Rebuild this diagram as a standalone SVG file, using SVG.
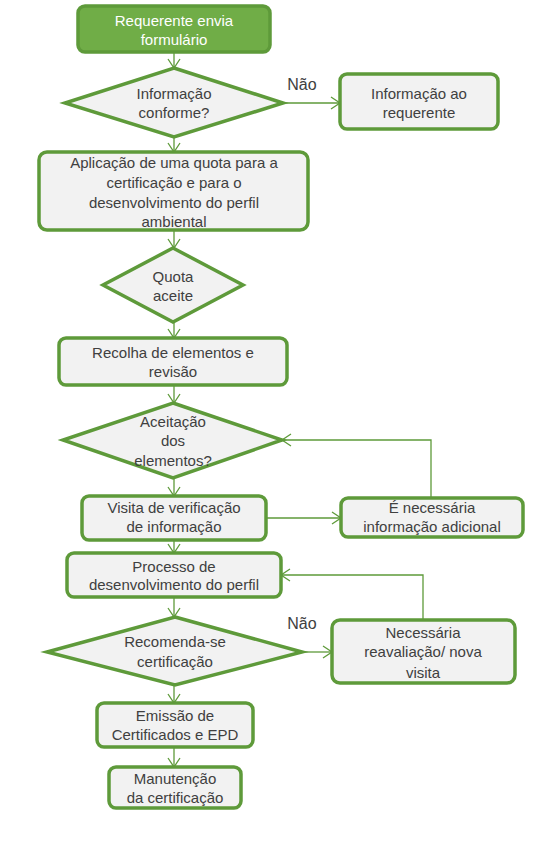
<svg xmlns="http://www.w3.org/2000/svg" width="548" height="841" viewBox="0 0 548 841">
<defs>
<marker id="arr" markerUnits="userSpaceOnUse" markerWidth="12" markerHeight="14" refX="10" refY="7" orient="auto">
<path d="M1,1 L10,7 L1,13" fill="none" stroke="#5E9A3A" stroke-width="1.3"/>
</marker>
</defs>
<style>
.box{fill:#F2F2F2;stroke:#5E9A3A;stroke-width:3.5}
.start{fill:#70AD47;stroke:#5E9A3A;stroke-width:3.5}
.t{font-family:"Liberation Sans",Arial,sans-serif;font-size:15px;fill:#404040;text-anchor:middle}
.w{fill:#FFFFFF}
.n{font-size:16px}
.c{fill:none;stroke:#5E9A3A;stroke-width:1.3;marker-end:url(#arr)}
</style>
<rect width="548" height="841" fill="#FFFFFF"/>
<g id="connectors">
<path class="c" d="M174,52 V68"/>
<path class="c" d="M283,103 H340"/>
<path class="c" d="M174,137 V152"/>
<path class="c" d="M174,230 V248"/>
<path class="c" d="M174,322 V338"/>
<path class="c" d="M174,385 V403"/>
<path class="c" d="M174,478 V496"/>
<path class="c" d="M266,518 H341"/>
<path class="c" d="M431,498 V440 H282"/>
<path class="c" d="M174,540 V553"/>
<path class="c" d="M174,597 V617"/>
<path class="c" d="M302,652 H332"/>
<path class="c" d="M423,620 V575 H281"/>
<path class="c" d="M174,685 V703"/>
<path class="c" d="M174,747 V767"/>
</g>
<g id="n1">
<rect class="start" x="78" y="6" width="192" height="46" rx="7"/>
<text class="t w" x="174" y="26">Requerente envia</text>
<text class="t w" x="174" y="45">formulário</text>
</g>
<g id="n2">
<polygon class="box" points="174,68 283,103 174,137 65,103"/>
<text class="t" x="174" y="99">Informação</text>
<text class="t" x="174" y="118">conforme?</text>
</g>
<text class="t n" x="302" y="90">Não</text>
<g id="n3">
<rect class="box" x="340" y="74" width="158" height="55" rx="7"/>
<text class="t" x="419" y="99">Informação ao</text>
<text class="t" x="419" y="118">requerente</text>
</g>
<g id="n4">
<rect class="box" x="39" y="152" width="269" height="78" rx="8"/>
<text class="t" x="174" y="168">Aplicação de uma quota para a</text>
<text class="t" x="174" y="188">certificação e para o</text>
<text class="t" x="174" y="208">desenvolvimento do perfil</text>
<text class="t" x="174" y="227">ambiental</text>
</g>
<g id="n5">
<polygon class="box" points="173,248 243,285 173,322 103,285"/>
<text class="t" x="173" y="282">Quota</text>
<text class="t" x="173" y="301">aceite</text>
</g>
<g id="n6">
<rect class="box" x="59" y="338" width="228" height="47" rx="7"/>
<text class="t" x="173" y="358">Recolha de elementos e</text>
<text class="t" x="173" y="377">revisão</text>
</g>
<g id="n7">
<polygon class="box" points="173,403 282,440 173,478 63,440"/>
<text class="t" x="173" y="427">Aceitação</text>
<text class="t" x="173" y="446">dos</text>
<text class="t" x="173" y="466">elementos?</text>
</g>
<g id="n8">
<rect class="box" x="82" y="496" width="184" height="44" rx="7"/>
<text class="t" x="174" y="513">Visita de verificação</text>
<text class="t" x="174" y="532">de informação</text>
</g>
<g id="n9">
<rect class="box" x="341" y="498" width="182" height="39" rx="7"/>
<text class="t" x="432" y="513">É necessária</text>
<text class="t" x="432" y="532">informação adicional</text>
</g>
<g id="n10">
<rect class="box" x="67" y="553" width="214" height="44" rx="7"/>
<text class="t" x="174" y="572">Processo de</text>
<text class="t" x="174" y="590">desenvolvimento do perfil</text>
</g>
<g id="n11">
<polygon class="box" points="175,617 302,652 175,685 47,652"/>
<text class="t" x="175" y="647">Recomenda-se</text>
<text class="t" x="175" y="667">certificação</text>
</g>
<text class="t n" x="302" y="629">Não</text>
<g id="n12">
<rect class="box" x="332" y="620" width="183" height="63" rx="8"/>
<text class="t" x="423" y="638">Necessária</text>
<text class="t" x="423" y="657">reavaliação/ nova</text>
<text class="t" x="423" y="678">visita</text>
</g>
<g id="n13">
<rect class="box" x="97" y="703" width="156" height="44" rx="7"/>
<text class="t" x="175" y="721">Emissão de</text>
<text class="t" x="175" y="740">Certificados e EPD</text>
</g>
<g id="n14">
<rect class="box" x="109" y="767" width="132" height="41" rx="7"/>
<text class="t" x="175" y="784">Manutenção</text>
<text class="t" x="175" y="803">da certificação</text>
</g>
</svg>
